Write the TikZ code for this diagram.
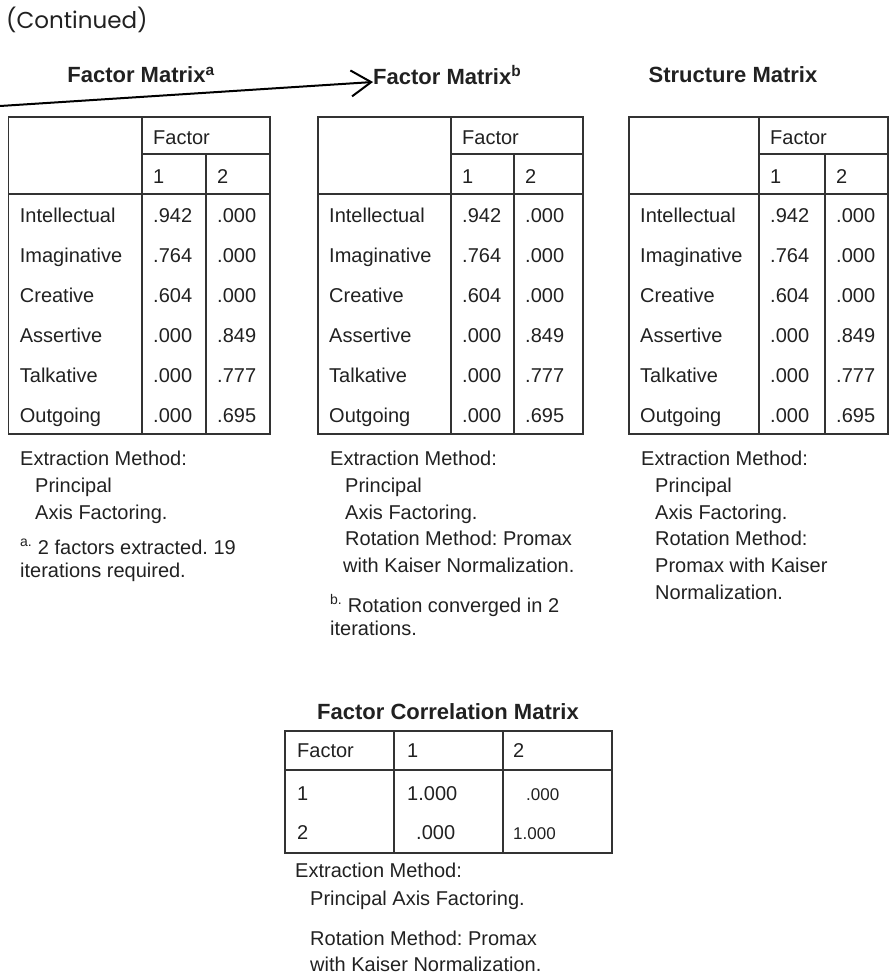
\documentclass[tikz,border=0pt]{standalone}
\usepackage{fontspec}
\setmainfont{Liberation Sans}
\newfontfamily\contfont{Poppins}
\usetikzlibrary{arrows.meta,positioning}
\frenchspacing

\begin{document}
\begin{tikzpicture}[x=1pt,y=-1pt]

	\tikzstyle{cell}=[anchor=base west, inner sep=0pt, text=black!87, font=\fontsize{20}{24}\selectfont]
	\tikzstyle{small}=[cell, font=\fontsize{17}{20}\selectfont]
	\tikzstyle{heading}=[inner sep=0pt, text=black!87, font=\bfseries\fontsize{22}{26}\selectfont]
	\tikzstyle{grid}=[line width=1.4pt, black!80]

	\useasboundingbox (0,0) rectangle (891,977);

	\node[cell, font=\contfont\fontsize{23}{27}\selectfont] (cont) at (6,28) {(Continued)};

	\node[heading] (t_1) at (141,75) {Factor Matrix\textsuperscript{a}}; % TITULOS
	\node[heading, anchor=west] (t_2) at (373,75) {Factor Matrix\textsuperscript{b}};
	\node[heading] (t_3) at (733,75) {Structure Matrix};
	\node[heading] (t_4) at (448,712) {Factor Correlation Matrix};

	\coordinate (a_0) at (0,106);
	\draw[line width=2pt, -{Straight Barb[length=20pt,width=26pt]}] (a_0) -- ([yshift=-7pt]t_2.west);

	% THE THREE 6 x 2 TABLES
	\foreach \t/\xa/\xb/\xc/\xd in {1/8.7/142/206/270, 2/318/451/514/583, 3/629/759/825/888} {
		\draw[grid] (\xa,117) rectangle (\xd,434);
		\draw[grid] (\xb,117) -- (\xb,434);
		\draw[grid] (\xb,154) -- (\xd,154);
		\draw[grid] (\xa,194) -- (\xd,194);
		\draw[grid] (\xc,154) -- (\xc,434);
		\node[cell] (f_\t) at (\xb+11,144) {Factor};
		\node[cell] (h_\t_1) at (\xb+11,183) {1};
		\node[cell] (h_\t_2) at (\xc+11,183) {2};
		\foreach \r/\lab/\va/\vb in {1/Intellectual/.942/.000, 2/Imaginative/.764/.000, 3/Creative/.604/.000,
			4/Assertive/.000/.849, 5/Talkative/.000/.777, 6/Outgoing/.000/.695} {
			\node[cell] (r_\t_\r) at (\xa+11,182+40*\r) {\lab};
			\node[cell] (v_\t_\r_1) at (\xb+11,182+40*\r) {\va};
			\node[cell] (v_\t_\r_2) at (\xc+11,182+40*\r) {\vb};
		}
	}

	\node[cell] (n_1_1) at (20,465) {Extraction Method:}; % NOTAS TABLA 1
	\node[cell] (n_1_2) at (35,492) {Principal};
	\node[cell] (n_1_3) at (35,519) {Axis Factoring.};
	\node[cell] (n_1_4) at (20,554) {\textsuperscript{a.} 2 factors extracted. 19};
	\node[cell] (n_1_5) at (20,577) {iterations required.};

	\node[cell] (n_2_1) at (330,465) {Extraction Method:}; % NOTAS TABLA 2
	\node[cell] (n_2_2) at (345,492) {Principal};
	\node[cell] (n_2_3) at (345,519) {Axis Factoring.};
	\node[cell] (n_2_4) at (345,545) {Rotation Method: Promax};
	\node[cell] (n_2_5) at (343,572) {with Kaiser Normalization.};
	\node[cell] (n_2_6) at (330,612) {\textsuperscript{b.} Rotation converged in 2};
	\node[cell] (n_2_7) at (330,635) {iterations.};

	\node[cell] (n_3_1) at (641,465) {Extraction Method:}; % NOTAS TABLA 3
	\node[cell] (n_3_2) at (655,492) {Principal};
	\node[cell] (n_3_3) at (655,519) {Axis Factoring.};
	\node[cell] (n_3_4) at (655,545) {Rotation Method:};
	\node[cell] (n_3_5) at (655,572) {Promax with Kaiser};
	\node[cell] (n_3_6) at (655,599) {Normalization.};

	% CORRELATION TABLE
	\draw[grid] (285,731) rectangle (612,853);
	\draw[grid] (394,731) -- (394,853);
	\draw[grid] (503,731) -- (503,853);
	\draw[grid] (285,770) -- (612,770);
	\node[cell] (k_0_0) at (297,757) {Factor};
	\node[cell] (k_0_1) at (407,757) {1};
	\node[cell] (k_0_2) at (513,757) {2};
	\node[cell] (k_1_0) at (297,800) {1};
	\node[cell] (k_1_1) at (407,800) {1.000};
	\node[small] (k_1_2) at (526,800) {.000};
	\node[cell] (k_2_0) at (297,839) {2};
	\node[cell] (k_2_1) at (416,839) {.000};
	\node[small] (k_2_2) at (513,839) {1.000};

	\node[cell] (n_4_1) at (295,877) {Extraction Method:}; % NOTAS TABLA 4
	\node[cell] (n_4_2) at (310,905) {Principal Axis Factoring.};
	\node[cell] (n_4_3) at (310,945) {Rotation Method: Promax};
	\node[cell] (n_4_4) at (310,971) {with Kaiser Normalization.};

\end{tikzpicture}
\end{document}
